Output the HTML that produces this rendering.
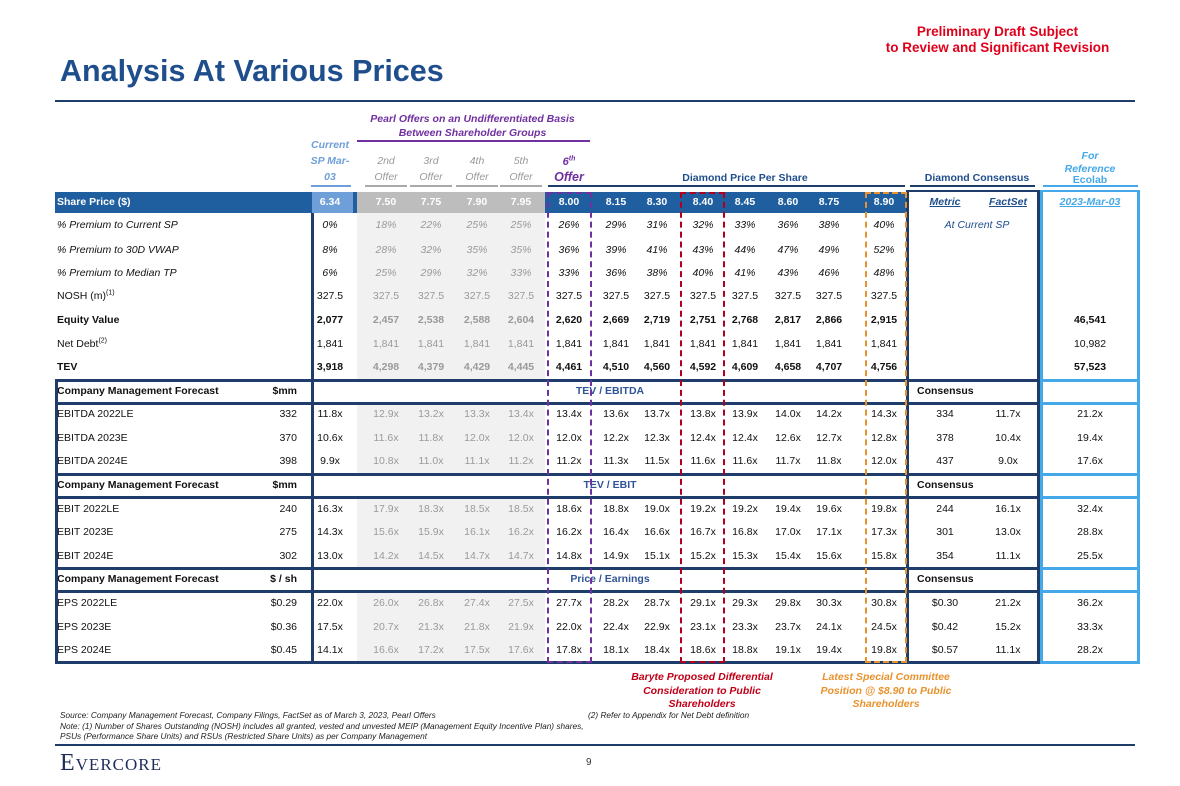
<!DOCTYPE html>
<html><head><meta charset="utf-8">
<style>
body{margin:0;width:1180px;height:786px;background:#fff;position:relative;overflow:hidden;font-family:"Liberation Sans",Arial,sans-serif;}
.a{position:absolute;white-space:nowrap;}
.t{position:absolute;white-space:nowrap;font-size:10.5px;color:#111;line-height:14px;}
sup{line-height:0;}
</style></head>
<body>
<div class="a" style="left:870px;top:24px;width:255px;text-align:center;color:#e0001b;font-weight:bold;font-size:13.5px;line-height:16px;">Preliminary Draft Subject<br>to Review and Significant Revision</div>
<div class="a" style="left:60px;top:54px;font-size:30.5px;font-weight:bold;color:#1f4e8c;">Analysis At Various Prices</div>
<div class="a" style="left:55px;top:100px;width:1080px;height:2px;background:#1f3d6b;"></div>

<div class="a" style="left:355px;top:112px;width:235px;text-align:center;color:#7030a0;font-weight:bold;font-style:italic;font-size:10.5px;line-height:14px;">Pearl Offers on an Undifferentiated Basis<br>Between Shareholder Groups</div>
<div class="a" style="left:357px;top:140px;width:233px;height:2px;background:#7030a0;"></div>

<div id="root"></div>

<div class="a" style="left:60px;top:710px;font-size:8.3px;font-style:italic;color:#222;line-height:10.5px;">Source: Company Management Forecast, Company Filings, FactSet as of March 3, 2023, Pearl Offers<br>Note: (1) Number of Shares Outstanding (NOSH) includes all granted, vested and unvested MEIP (Management Equity Incentive Plan) shares,<br>PSUs (Performance Share Units) and RSUs (Restricted Share Units) as per Company Management</div>
<div class="a" style="left:588px;top:710px;font-size:8.3px;font-style:italic;color:#222;">(2) Refer to Appendix for Net Debt definition</div>
<div class="a" style="left:55px;top:744px;width:1080px;height:2px;background:#1f3d6b;"></div>
<div class="a" style="left:60px;top:750px;font-family:'Liberation Serif',serif;font-size:24px;color:#1f2d5a;font-variant:small-caps;letter-spacing:1px;">Evercore</div>
<div class="a" style="left:586px;top:757px;font-size:10px;color:#333;">9</div>

<script>
const colX=[330,386,431,477,521,569,616,657,703,745,788,829,884];
const sharePrices=["6.34","7.50","7.75","7.90","7.95","8.00","8.15","8.30","8.40","8.45","8.60","8.75","8.90"];
const premCur=["0%","18%","22%","25%","25%","26%","29%","31%","32%","33%","36%","38%","40%"];
const premVwap=["8%","28%","32%","35%","35%","36%","39%","41%","43%","44%","47%","49%","52%"];
const premTp=["6%","25%","29%","32%","33%","33%","36%","38%","40%","41%","43%","46%","48%"];
const nosh=["327.5","327.5","327.5","327.5","327.5","327.5","327.5","327.5","327.5","327.5","327.5","327.5","327.5"];
const equity=["2,077","2,457","2,538","2,588","2,604","2,620","2,669","2,719","2,751","2,768","2,817","2,866","2,915"];
const netDebt=["1,841","1,841","1,841","1,841","1,841","1,841","1,841","1,841","1,841","1,841","1,841","1,841","1,841"];
const tev=["3,918","4,298","4,379","4,429","4,445","4,461","4,510","4,560","4,592","4,609","4,658","4,707","4,756"];
const ebitda22=["11.8x","12.9x","13.2x","13.3x","13.4x","13.4x","13.6x","13.7x","13.8x","13.9x","14.0x","14.2x","14.3x"];
const ebitda23=["10.6x","11.6x","11.8x","12.0x","12.0x","12.0x","12.2x","12.3x","12.4x","12.4x","12.6x","12.7x","12.8x"];
const ebitda24=["9.9x","10.8x","11.0x","11.1x","11.2x","11.2x","11.3x","11.5x","11.6x","11.6x","11.7x","11.8x","12.0x"];
const ebit22=["16.3x","17.9x","18.3x","18.5x","18.5x","18.6x","18.8x","19.0x","19.2x","19.2x","19.4x","19.6x","19.8x"];
const ebit23=["14.3x","15.6x","15.9x","16.1x","16.2x","16.2x","16.4x","16.6x","16.7x","16.8x","17.0x","17.1x","17.3x"];
const ebit24=["13.0x","14.2x","14.5x","14.7x","14.7x","14.8x","14.9x","15.1x","15.2x","15.3x","15.4x","15.6x","15.8x"];
const eps22=["22.0x","26.0x","26.8x","27.4x","27.5x","27.7x","28.2x","28.7x","29.1x","29.3x","29.8x","30.3x","30.8x"];
const eps23=["17.5x","20.7x","21.3x","21.8x","21.9x","22.0x","22.4x","22.9x","23.1x","23.3x","23.7x","24.1x","24.5x"];
const eps24=["14.1x","16.6x","17.2x","17.5x","17.6x","17.8x","18.1x","18.4x","18.6x","18.8x","19.1x","19.4x","19.8x"];

const root=document.getElementById('root');
function box(l,t,w,h,bg,name){const d=document.createElement('div');d.className='a';d.style.cssText=`left:${l}px;top:${t}px;width:${w}px;height:${h}px;background:${bg};`;


root.appendChild(d);return d;}
function txt(s,x,y,align,css,name){const d=document.createElement('div');d.className='t';d.textContent=s;
let l=x; if(align==='c'){d.style.width='80px';d.style.textAlign='center';l=x-40;} else if(align==='r'){d.style.width='120px';d.style.textAlign='right';l=x-120;}
d.style.left=l+'px';d.style.top=(y-7)+'px';d.style.cssText+=css||'';


root.appendChild(d);return d;}

txt("Current",330,145,'c','color:#6f9fd8;font-style:italic;font-weight:bold;','current-header');
txt("SP Mar-",330,161,'c','color:#6f9fd8;font-style:italic;font-weight:bold;','current-header');
txt("03",330,177,'c','color:#6f9fd8;font-style:italic;font-weight:bold;','current-header');
box(311,185,40,2,'#6f9fd8','current-rule');
["2nd","3rd","4th","5th"].forEach((s,i)=>{txt(s,colX[i+1],161,'c','color:#999;font-style:italic;','offer-header');txt("Offer",colX[i+1],177,'c','color:#999;font-style:italic;','offer-header');box(colX[i+1]-21,185,42,2,'#aaa','offer-rule');});
const h6=txt("",569,162,'c','color:#7030a0;font-style:italic;font-weight:bold;font-size:11px;','sixth-offer-header');h6.innerHTML='6<sup style="font-size:7px">th</sup>';
txt("Offer",569,177,'c','color:#7030a0;font-style:italic;font-weight:bold;font-size:12.5px;','sixth-offer-header');
box(548,185,44,2,'#1f3d6b','sixth-rule');
txt("Diamond Price Per Share",745,178,'c','color:#1f4e8c;font-weight:bold;width:200px;margin-left:-60px;','diamond-price-header');
box(592,185,313,2,'#1f3d6b','diamond-rule');
txt("Diamond Consensus",977,178,'c','color:#1f4e8c;font-weight:bold;width:140px;margin-left:-30px;','consensus-header');
box(910,185,125,2,'#1f3d6b','consensus-rule');
txt("For",1090,156,'c','color:#45a8e8;font-style:italic;font-weight:bold;','ecolab-header');
txt("Reference",1090,169,'c','color:#45a8e8;font-style:italic;font-weight:bold;','ecolab-header');
txt("Ecolab",1090,180,'c','color:#45a8e8;font-weight:bold;','ecolab-header');
box(1043,185,95,2,'#45a8e8','ecolab-rule');

box(55,192,851,21,'#1f5fa0','share-price-bar');
box(312,192,41,21,'#6f9fd8','current-price-cell');
box(357,192,188,21,'#bdbdbd','pearl-price-cells');
txt("Share Price ($)",57,202,'l','color:#fff;font-weight:bold;','share-price-label');
sharePrices.forEach((v,i)=>txt(v,colX[i],202,'c','color:#fff;font-weight:bold;','share-price-value'));
txt("Metric",945,202,'c','color:#1f4e8c;font-weight:bold;font-style:italic;text-decoration:underline;','metric-header');
txt("FactSet",1008,202,'c','color:#1f4e8c;font-weight:bold;font-style:italic;text-decoration:underline;','factset-header');
txt("2023-Mar-03",1090,202,'c','color:#45a8e8;font-weight:bold;font-style:italic;text-decoration:underline;width:100px;margin-left:-10px;','ecolab-date');

box(357,213,188,449,'#f1f1f1','pearl-shading');

const rows=[
 {y:225,l:"% Premium to Current SP",d:premCur,it:1},
 {y:250,l:"% Premium to 30D VWAP",d:premVwap,it:1},
 {y:273,l:"% Premium to Median TP",d:premTp,it:1},
 {y:296,l:"NOSH (m)",sup:"(1)",d:nosh},
 {y:320,l:"Equity Value",d:equity,b:1,e:"46,541"},
 {y:344,l:"Net Debt",sup:"(2)",d:netDebt,e:"10,982"},
 {y:367,l:"TEV",d:tev,b:1,e:"57,523"},
 {y:391,h:"TEV / EBITDA",u:"$mm"},
 {y:414,l:"EBITDA 2022LE",v:"332",d:ebitda22,m:"334",f:"11.7x",e:"21.2x"},
 {y:438,l:"EBITDA 2023E",v:"370",d:ebitda23,m:"378",f:"10.4x",e:"19.4x"},
 {y:461,l:"EBITDA 2024E",v:"398",d:ebitda24,m:"437",f:"9.0x",e:"17.6x"},
 {y:485,h:"TEV / EBIT",u:"$mm"},
 {y:509,l:"EBIT 2022LE",v:"240",d:ebit22,m:"244",f:"16.1x",e:"32.4x"},
 {y:532,l:"EBIT 2023E",v:"275",d:ebit23,m:"301",f:"13.0x",e:"28.8x"},
 {y:556,l:"EBIT 2024E",v:"302",d:ebit24,m:"354",f:"11.1x",e:"25.5x"},
 {y:579,h:"Price / Earnings",u:"$ / sh"},
 {y:603,l:"EPS 2022LE",v:"$0.29",d:eps22,m:"$0.30",f:"21.2x",e:"36.2x"},
 {y:627,l:"EPS 2023E",v:"$0.36",d:eps23,m:"$0.42",f:"15.2x",e:"33.3x"},
 {y:650,l:"EPS 2024E",v:"$0.45",d:eps24,m:"$0.57",f:"11.1x",e:"28.2x"},
];
rows.forEach(r=>{
 if(r.h){
  box(55,r.y-11,1085,22,'#fff','section-header-bg');
  txt("Company Management Forecast",57,r.y,'l','font-weight:bold;','section-header-label');
  txt(r.u,297,r.y,'r','font-weight:bold;','section-units');
  txt(r.h,610,r.y,'c','color:#2f5596;font-weight:bold;width:120px;margin-left:-20px;','section-metric-title');
  txt("Consensus",917,r.y,'l','font-weight:bold;','section-consensus');
  [r.y-12,r.y+11].forEach(yy=>{box(55,yy,851,3,'#1f3d6b','section-rule');box(906,yy,134,3,'#1f3d6b','section-rule');box(1040,yy,100,3,'#45a8e8','section-rule');});
  return;
 }
 const lab=txt(r.l,57,r.y,'l',(r.it?'font-style:italic;':'')+(r.b?'font-weight:bold;':''),'row-label');
 if(r.sup){const s=document.createElement('sup');s.textContent=r.sup;s.style.fontSize='7px';lab.appendChild(s);}
 if(r.v) txt(r.v,297,r.y,'r','','row-base-value');
 r.d.forEach((v,i)=>{const pearl=i>=1&&i<=4;
  txt(v,colX[i],r.y,'c',(r.it?'font-style:italic;':'')+(r.b?'font-weight:bold;':'')+(pearl?'color:#9a9a9a;':''),'cell-value');});
 if(r.m) txt(r.m,945,r.y,'c','','consensus-metric');
 if(r.f) txt(r.f,1008,r.y,'c','','consensus-factset');
 if(r.e) txt(r.e,1090,r.y,'c',r.b?'font-weight:bold;':'','ecolab-value');
});
txt("At Current SP",977,225,'c','color:#1f4e8c;font-style:italic;width:120px;margin-left:-20px;','at-current-sp');

box(55,380,3,284,'#1f3d6b','table-left-border');
box(311,213,3,451,'#1f3d6b','current-left-border');
box(906,192,3,472,'#1f3d6b','consensus-left-border');
box(1037,192,3,472,'#1f3d6b','consensus-right-border');
box(1040,192,3,472,'#45a8e8','ecolab-left-border');
box(1137,192,3,472,'#45a8e8','ecolab-right-border');
box(55,661,1082,3,'#1f3d6b','table-bottom-border');
box(1040,661,100,3,'#45a8e8','ecolab-bottom-border');
box(906,190,234,2,'#1f3d6b','consensus-top');
box(1040,190,100,2,'#45a8e8','ecolab-top');

function dbox(l,w,c,name){const d=document.createElement('div');d.className='a';
d.style.cssText=`left:${l}px;top:192px;width:${w}px;height:471px;border:2px dashed ${c};box-sizing:border-box;`;


root.appendChild(d);}
dbox(547,45,'#7030a0','sixth-offer-highlight');
dbox(680,45,'#b0001e','baryte-highlight');
dbox(865,42,'#e8922e','special-committee-highlight');

const n1=txt("",702,678,'c','color:#c00018;font-weight:bold;font-style:italic;width:180px;margin-left:-50px;text-align:center;line-height:13.5px;','baryte-note');
n1.innerHTML="Baryte Proposed Differential<br>Consideration to Public<br>Shareholders";
const n2=txt("",886,678,'c','color:#e8922e;font-weight:bold;font-style:italic;width:180px;margin-left:-50px;text-align:center;line-height:13.5px;','special-committee-note');
n2.innerHTML="Latest Special Committee<br>Position @ $8.90 to Public<br>Shareholders";
</script>
</body></html>
